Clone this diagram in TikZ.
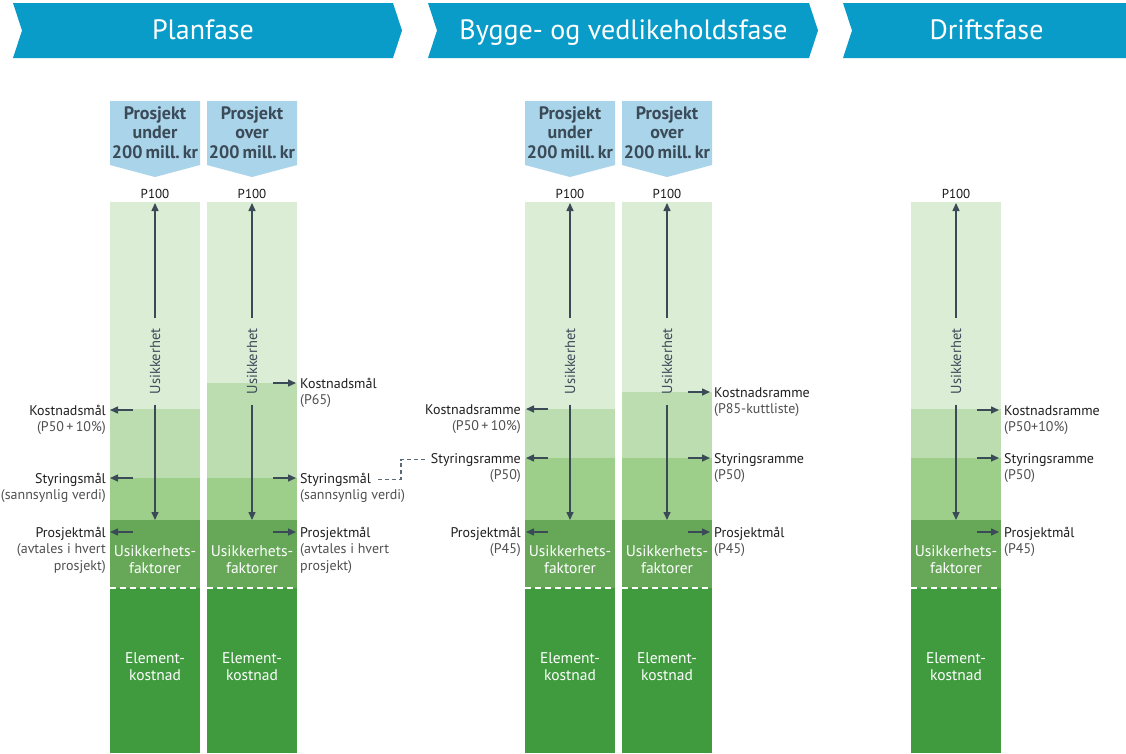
\documentclass[tikz,border=0pt]{standalone}
\usepackage{fontspec}
\setmainfont{PT Sans}
\usetikzlibrary{arrows.meta}

\definecolor{phase}{HTML}{0A9CC9}
\definecolor{hdr}{HTML}{A9D4E9}
\definecolor{ink}{HTML}{3B4A57}
\definecolor{bandA}{HTML}{DCEDD6}
\definecolor{bandB}{HTML}{BCDDAF}
\definecolor{bandC}{HTML}{9DCF8A}
\definecolor{bandD}{HTML}{66A858}
\definecolor{bandE}{HTML}{409A3E}
\definecolor{subtxt}{HTML}{505050}
\definecolor{conncol}{HTML}{5B6B78}

\tikzset{
  arr/.style={draw=ink, line width=1.5pt, -{Triangle[length=8pt,width=7pt]}},
  conn/.style={draw=conncol, line width=1.3pt, dash pattern=on 4pt off 3pt},
  whitedash/.style={draw=white, line width=1.8pt, dash pattern=on 6pt off 4pt},
  phasetxt/.style={text=white, font=\fontsize{28}{30}\selectfont, anchor=base, inner sep=0pt},
  hdrtxt/.style={text=ink, font=\bfseries\fontsize{18}{19.5}\selectfont, align=center, inner sep=0pt},
  ptxt/.style={text=black!90, font=\fontsize{13}{15}\selectfont, anchor=base, inner sep=0pt},
  vtxt/.style={text=ink, font=\fontsize{14.5}{16}\selectfont, rotate=90, inner xsep=10pt, inner ysep=0pt},
  intxt/.style={text=white, font=\fontsize{15.5}{17}\selectfont, align=center, inner sep=0pt},
  mainL/.style={text=black!88, font=\fontsize{14}{16}\selectfont, anchor=base east, inner sep=0pt},
  subL/.style={text=subtxt, font=\fontsize{14}{16}\selectfont, anchor=base east, inner sep=0pt},
  mainR/.style={text=black!88, font=\fontsize{14}{16}\selectfont, anchor=base west, inner sep=0pt},
  subR/.style={text=subtxt, font=\fontsize{14}{16}\selectfont, anchor=base west, inner sep=0pt},
}

% one cost column: name prefix, left x, top of second band, top of third band
\newcommand{\coststack}[4]{%
  \pgfmathsetmacro{\xr}{#2+90}%
  \pgfmathsetmacro{\xm}{#2+45}%
  \fill[bandA] (#2,202) rectangle (\xr,#3);
  \fill[bandB] (#2,#3) rectangle (\xr,#4);
  \fill[bandC] (#2,#4) rectangle (\xr,520);
  \fill[bandD] (#2,520) rectangle (\xr,588);
  \fill[bandE] (#2,588) rectangle (\xr,753);
  \draw[whitedash] (#2,588) -- (\xr,588);
  \node[ptxt] (#1p) at (\xm,198.5) {P100};
  \node[vtxt] (#1u) at (\xm,361.5) {Usikkerhet};
  \coordinate (#1t) at (\xm,203);
  \coordinate (#1b) at (\xm,520);
  \draw[arr] (#1u.east) -- (#1t);
  \draw[arr] (#1u.west) -- (#1b);
  \node[intxt] (#1f) at (\xm,559.5) {Usikkerhets-\\faktorer};
  \node[intxt] (#1e) at (\xm,667) {Element-\\kostnad};
}

% project-size tag above a column: name, left x, middle word
\newcommand{\sizetag}[3]{%
  \fill[hdr] (#2,101) -- ++(90,0) -- ++(0,64) -- ++(-45,12) -- ++(-45,-12) -- cycle;
  \node[hdrtxt] (#1) at (#2+45,132.5) {Prosjekt\\#3\\200\,mill.\,kr};
}

% a level arrow: name, from x, to x, y
\newcommand{\levelarrow}[4]{%
  \coordinate (#1s) at (#2,#4);
  \coordinate (#1e) at (#3,#4);
  \draw[arr] (#1s) -- (#1e);
}

\begin{document}
\begin{tikzpicture}[x=1pt,y=-1pt]
\clip (0,0) rectangle (1126,753);
\fill[white] (0,0) rectangle (1126,753);

% phase banners
\fill[phase] (13,3) -- (393,3) -- (402,30.5) -- (393,58) -- (13,58) -- (22,30.5) -- cycle;
\fill[phase] (428,3) -- (809,3) -- (818,30.5) -- (809,58) -- (428,58) -- (437,30.5) -- cycle;
\fill[phase] (843,3) -- (1130,3) -- (1139,30.5) -- (1130,58) -- (843,58) -- (852,30.5) -- cycle;
\node[phasetxt] (ph1) at (203,39.5) {Planfase};
\node[phasetxt] (ph2) at (623.5,39.5) {Bygge- og vedlikeholdsfase};
\node[phasetxt] (ph3) at (986.5,39.5) {Driftsfase};

% size tags
\sizetag{h1}{110}{under}
\sizetag{h2}{207}{over}
\sizetag{h3}{525}{under}
\sizetag{h4}{622}{over}

% columns
\coststack{a}{110}{409}{478}
\coststack{b}{207}{383}{478}
\coststack{c}{525}{409}{458}
\coststack{d}{622}{392}{458}
\coststack{e}{911}{409}{458}

% column 1 levels (left)
\levelarrow{aK}{133}{110}{410}
\levelarrow{aS}{133}{110}{478}
\levelarrow{aP}{133}{110}{532}
\node[mainL] (aKt) at (106,415) {Kostnadsmål};
\node[subL]  (aKu) at (106,431.7) {(P50\,+\,10\%)};
\node[mainL] (aSt) at (106,483) {Styringsmål};
\node[subL]  (aSu) at (106,499.7) {(sannsynlig verdi)};
\node[mainL] (aPt) at (106,537) {Prosjektmål};
\node[subL]  (aPu) at (106,553.7) {(avtales i hvert};
\node[subL]  (aPv) at (106,570.4) {prosjekt)};

% column 2 levels (right)
\levelarrow{bK}{273}{296}{383}
\levelarrow{bS}{273}{296}{478}
\levelarrow{bP}{273}{296}{532}
\node[mainR] (bKt) at (300,388) {Kostnadsmål};
\node[subR]  (bKu) at (300,404.7) {(P65)};
\node[mainR] (bSt) at (300,483) {Styringsmål};
\node[subR]  (bSu) at (300,499.7) {(sannsynlig verdi)};
\node[mainR] (bPt) at (300,537) {Prosjektmål};
\node[subR]  (bPu) at (300,553.7) {(avtales i hvert};
\node[subR]  (bPv) at (300,570.4) {prosjekt)};

% column 3 levels (left)
\levelarrow{cK}{548}{526}{409}
\levelarrow{cS}{548}{526}{458}
\levelarrow{cP}{548}{526}{532}
\node[mainL] (cKt) at (521,414) {Kostnadsramme};
\node[subL]  (cKu) at (521,430.7) {(P50\,+\,10\%)};
\node[mainL] (cSt) at (521,463) {Styringsramme};
\node[subL]  (cSu) at (521,479.7) {(P50)};
\node[mainL] (cPt) at (521,537) {Prosjektmål};
\node[subL]  (cPu) at (521,553.7) {(P45)};

% column 4 levels (right)
\levelarrow{dK}{688}{710}{392}
\levelarrow{dS}{688}{710}{458}
\levelarrow{dP}{688}{710}{532}
\node[mainR] (dKt) at (714,397) {Kostnadsramme};
\node[subR]  (dKu) at (714,413.7) {(P85-kuttliste)};
\node[mainR] (dSt) at (714,463) {Styringsramme};
\node[subR]  (dSu) at (714,479.7) {(P50)};
\node[mainR] (dPt) at (714,537) {Prosjektmål};
\node[subR]  (dPu) at (714,553.7) {(P45)};

% column 5 levels (right)
\levelarrow{eK}{977}{999}{410}
\levelarrow{eS}{977}{999}{458}
\levelarrow{eP}{977}{999}{532}
\node[mainR] (eKt) at (1004,415) {Kostnadsramme};
\node[subR]  (eKu) at (1004,431.7) {(P50+10\%)};
\node[mainR] (eSt) at (1004,463) {Styringsramme};
\node[subR]  (eSu) at (1004,479.7) {(P50)};
\node[mainR] (ePt) at (1004,537) {Prosjektmål};
\node[subR]  (ePu) at (1004,553.7) {(P45)};

% link between the two steering levels
\draw[conn] ([xshift=7pt]bSt.east) -| (401,468) |- ([xshift=-6pt]cSt.west);
\end{tikzpicture}
\end{document}
